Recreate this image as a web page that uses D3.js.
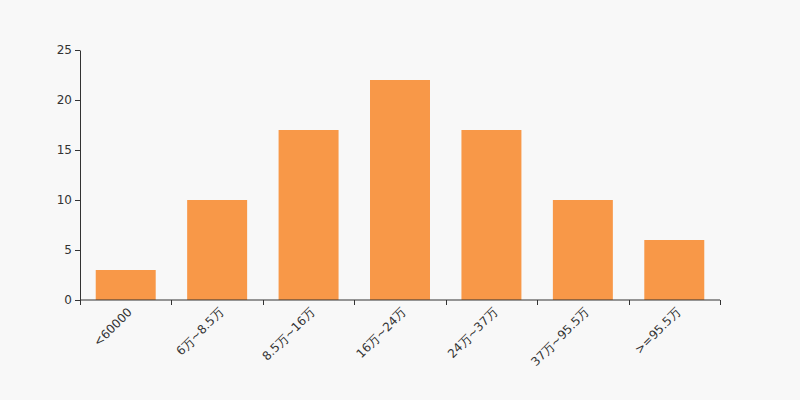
<!doctype html>
<html>
<head>
	<meta charset="utf-8">
	<title></title>
	<style>
		body { margin: 0; background: #f8f8f8; }
		svg { display: block; font-family: "DejaVu Sans", sans-serif; }
		.axis text { fill: #333; font-size: 12px; font-family: "DejaVu Sans", sans-serif; }
		.axis path, .axis line { stroke: #333; }
		.bar { fill: #f89848; }
	</style>
</head>
<body>

	<svg width="800" height="400"></svg>

	<script src="https://d3js.org/d3.v7.min.js"></script>
	<script>

		const categories = [ "<60000", "6万~8.5万", "8.5万~16万", "16万~24万", "24万~37万", "37万~95.5万", ">=95.5万" ];
		const counts = [ 3, 10, 17, 22, 17, 10, 6 ];
		const y_ticks = [ 0, 5, 10, 15, 20, 25 ];

		const svg = d3.select( "svg" );
		const margin = { top: 50, right: 80, bottom: 100, left: 80 };
		const width = 800 - margin.left - margin.right,
			height = 400 - margin.top - margin.bottom;

		const g = svg.append( "g" )
				.attr( "transform", "translate(" + margin.left + "," + margin.top + ")" );

		const x = d3.scaleBand()
				.domain( categories )
				.range( [ 0, width ] )
				.paddingInner( 0.344 )
				.paddingOuter( 0.172 );

		const y = d3.scaleLinear()
				.domain( [ 0, 25 ] )
				.range( [ height, 0 ] );

		// bars
		g.selectAll( ".bar" )
			.data( counts )
			.enter().append( "rect" )
				.attr( "class", "bar" )
				.attr( "x", ( d, i ) => x( categories[ i ] ) )
				.attr( "y", d => y( d ) )
				.attr( "width", x.bandwidth() )
				.attr( "height", d => height - y( d ) );

		// y axis
		g.append( "g" )
			.attr( "class", "axis" )
			.call( d3.axisLeft( y ).tickValues( y_ticks ).tickSize( 5 ).tickSizeOuter( 0 ).tickPadding( 3 ) );

		// x axis: line with ticks at band boundaries
		const xaxis = g.append( "g" )
			.attr( "class", "axis" )
			.attr( "transform", "translate(0," + height + ")" );

		xaxis.append( "line" )
			.attr( "x1", 0 ).attr( "x2", width )
			.attr( "stroke", "#333" );

		const step = x.step();
		xaxis.selectAll( ".tick-b" )
			.data( d3.range( categories.length + 1 ) )
			.enter().append( "line" )
				.attr( "x1", i => Math.round( i * step ) + 0.5 )
				.attr( "x2", i => Math.round( i * step ) + 0.5 )
				.attr( "y1", 0 )
				.attr( "y2", 5 );

		xaxis.selectAll( "text" )
			.data( categories )
			.enter().append( "text" )
				.attr( "text-anchor", "end" )
				.attr( "transform", d => "translate(" + ( x( d ) + x.bandwidth() / 2 + 4 ) + ",10) rotate(-45)" )
				.attr( "dy", "0.35em" )
				.text( d => d );

	</script>

</body>
</html>
